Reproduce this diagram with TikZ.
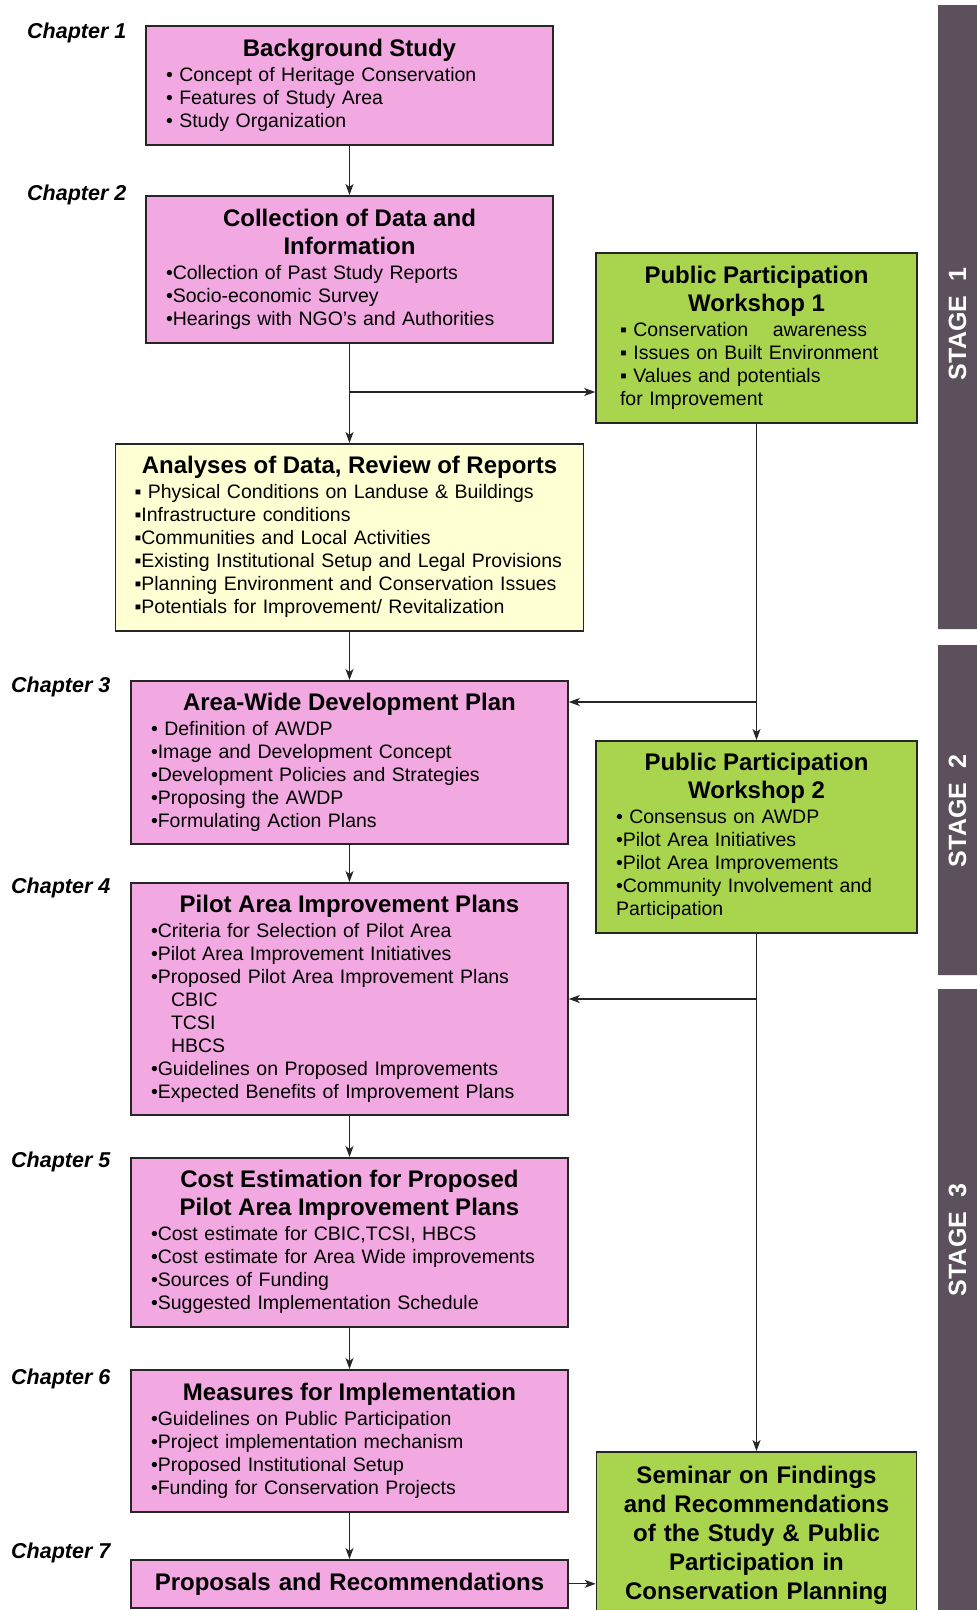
\documentclass[tikz,border=0pt]{standalone}
\usepackage{fontspec}
\setmainfont{Liberation Sans}
\usetikzlibrary{arrows.meta,calc,positioning}
\definecolor{pnk}{RGB}{242,168,224}
\definecolor{grn}{RGB}{168,212,78}
\definecolor{ylw}{RGB}{255,255,212}
\definecolor{stg}{RGB}{92,80,92}
\newcommand{\ttl}[1]{{\centering\fontsize{24}{28}\selectfont\bfseries #1\par}\vspace{2pt}}
\newcommand{\chp}[1]{Chapter #1}

\begin{document}
\begin{tikzpicture}[x=1pt,y=-1pt,
    blk/.style={draw=black!85,line width=1.6pt,anchor=north,inner xsep=20pt,inner ysep=0pt,
      align=left,font=\fontsize{19.5}{23}\selectfont},
    pinkbox/.style={blk,fill=pnk},
    greenbox/.style={blk,fill=grn},
    yellowbox/.style={blk,fill=ylw},
    chap/.style={anchor=west,inner sep=0pt,font=\fontsize{21.5}{26}\selectfont\bfseries\itshape},
    stagelbl/.style={rotate=90,text=white,inner sep=0pt,font=\fontsize{25}{30}\selectfont\bfseries},
    arr/.style={draw=black!85,line width=1.2pt,-{Stealth[length=11pt,width=8pt,inset=3pt]}}]
  \useasboundingbox (0,0) rectangle (977,1610);

  \fill[stg] (938,5) rectangle (977,629) (938,645) rectangle (977,975) (938,989) rectangle (977,1615);
  \node[stagelbl] (s1) at (957.5,324) {STAGE\hspace{14pt}1};
  \node[stagelbl] (s2) at (957.5,811) {STAGE\hspace{14pt}2};
  \node[stagelbl] (s3) at (957.5,1240) {STAGE\hspace{14pt}3};

  \node[chap] (c1) at (27,33) {\chp{1}};
  \node[chap] (c2) at (27,195) {\chp{2}};
  \node[chap] (c3) at (11,687) {\chp{3}};
  \node[chap] (c4) at (11,888) {\chp{4}};
  \node[chap] (c5) at (11,1162) {\chp{5}};
  \node[chap] (c6) at (11,1379) {\chp{6}};
  \node[chap] (c7) at (11,1553) {\chp{7}};

  \node[pinkbox,text width=367pt,minimum height=119pt] (bg) at (349.5,25) {
    \ttl{Background Study}
    • Concept of Heritage Conservation\\
    • Features of Study Area\\
    • Study Organization};
  \node[pinkbox,text width=367pt,minimum height=147pt] (coll) at (349.5,195) {
    \ttl{Collection of Data and\\Information}
    •Collection of Past Study Reports\\
    •Socio-economic Survey\\
    •Hearings with NGO’s and Authorities};
  \node[yellowbox,text width=430pt,inner xsep=19pt,minimum height=187pt] (ana) at (349.5,443) {
    \ttl{Analyses of Data, Review of Reports}
    ▪ Physical Conditions on Landuse \& Buildings\\
    ▪Infrastructure conditions\\
    ▪Communities and Local Activities\\
    ▪Existing Institutional Setup and Legal Provisions\\
    ▪Planning Environment and Conservation Issues\\
    ▪Potentials for Improvement/ Revitalization};
  \node[pinkbox,text width=397pt,minimum height=163pt] (awdp) at (349.5,680) {
    \ttl{Area-Wide Development Plan}
    • Definition of AWDP\\
    •Image and Development Concept\\
    •Development Policies and Strategies\\
    •Proposing the AWDP\\
    •Formulating Action Plans};
  \node[pinkbox,text width=397pt,minimum height=232pt] (pilot) at (349.5,882) {
    \ttl{Pilot Area Improvement Plans}
    •Criteria for Selection of Pilot Area\\
    •Pilot Area Improvement Initiatives\\
    •Proposed Pilot Area Improvement Plans\\
    \hspace*{20pt}CBIC\\
    \hspace*{20pt}TCSI\\
    \hspace*{20pt}HBCS\\
    •Guidelines on Proposed Improvements\\
    •Expected Benefits of Improvement Plans};
  \node[pinkbox,text width=397pt,minimum height=169pt] (cost) at (349.5,1157) {
    \ttl{Cost Estimation for Proposed\\Pilot Area Improvement Plans}
    •Cost estimate for CBIC,TCSI, HBCS\\
    •Cost estimate for Area Wide improvements\\
    •Sources of Funding\\
    •Suggested Implementation Schedule};
  \node[pinkbox,text width=397pt,minimum height=142pt] (meas) at (349.5,1369) {
    \ttl{Measures for Implementation}
    •Guidelines on Public Participation\\
    •Project implementation mechanism\\
    •Proposed Institutional Setup\\
    •Funding for Conservation Projects};
  \node[pinkbox,text width=397pt,minimum height=48pt,align=center,
    font=\fontsize{24}{28}\selectfont\bfseries] (prop) at (349.5,1559) {Proposals and Recommendations};

  \node[greenbox,text width=273pt,inner xsep=24pt,minimum height=170pt] (ppw1) at (756.5,252) {
    \ttl{Public Participation\\Workshop 1}
    ▪ Conservation\hspace{18pt} awareness\\
    ▪ Issues on Built Environment\\
    ▪ Values and potentials\\
    for Improvement};
  \node[greenbox,text width=281pt,minimum height=192pt] (ppw2) at (756.5,740) {
    \ttl{Public Participation\\Workshop 2}
    • Consensus on AWDP\\
    •Pilot Area Initiatives\\
    •Pilot Area Improvements\\
    •Community Involvement and\\
    Participation};
  \node[greenbox,text width=290pt,inner xsep=15pt,minimum height=168pt,align=center,
    font=\fontsize{24}{29}\selectfont\bfseries] (sem) at (756.5,1451) {
    Seminar on Findings\\and Recommendations\\of the Study \& Public\\Participation in\\Conservation Planning};

  \coordinate (j1) at (349.5,392);
  \coordinate (j2) at (756.5,702);
  \coordinate (j3) at (756.5,999);

  \draw[arr] (bg) -- (coll);
  \draw[arr] (coll) -- (ana);
  \draw[arr] (j1) -- (j1 -| ppw1.west);
  \draw[arr] (ana) -- (awdp);
  \draw[arr] (ppw1) -- (ppw2);
  \draw[arr] (j2) -- (j2 -| awdp.east);
  \draw[arr] (awdp) -- (pilot);
  \draw[arr] (ppw2) -- (sem);
  \draw[arr] (j3) -- (j3 -| pilot.east);
  \draw[arr] (pilot) -- (cost);
  \draw[arr] (cost) -- (meas);
  \draw[arr] (meas) -- (prop);
  \draw[arr] (prop) -- (prop -| sem.west);
\end{tikzpicture}
\end{document}
